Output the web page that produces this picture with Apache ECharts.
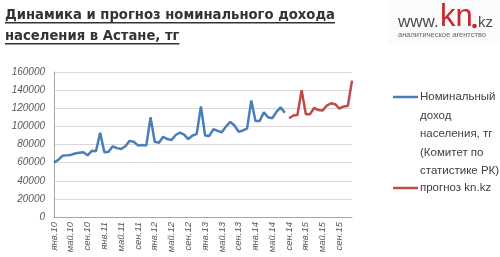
<!DOCTYPE html>
<html>
<head>
<meta charset="utf-8">
<script src="https://cdn.jsdelivr.net/npm/echarts@6/dist/echarts.min.js"></script>
<style>html,body{margin:0;padding:0;background:#fff;}#c{width:500px;height:257px;}</style>
</head>
<body>
<div id="c"></div>
<script>
const months = ['янв','фев','мар','апр','май','июн','июл','авг','сен','окт','ноя','дек'];
const years = ['10','11','12','13','14','15'];
const categories = years.flatMap(y => months.map(m => m + '.' + y));

const titleLines = ['Динамика и прогноз номинального дохода', 'населения в Астане, тг'];
const seriesNames = ['Номинальный доход населения, тг (Комитет по статистике РК)', 'прогноз kn.kz'];
const legendLines = [['Номинальный','доход','населения, тг','(Комитет по','статистике РК)'], ['прогноз kn.kz']];
const yTicks = {min: 0, max: 160000, interval: 20000};

// Jan 2010 – Aug 2014
const actual = [
  60000, 63000, 67500, 68000, 68500, 70000, 71000, 71500, 68000, 73000, 72500, 93000,
  71500, 72000, 78000, 76000, 75000, 78000, 84000, 83000, 79000, 79500, 79000, 110000,
  83000, 82000, 88500, 86000, 85000, 90500, 93000, 91000, 86000, 90000, 91500, 122000,
  90000, 89500, 97000, 95000, 93500, 100000, 105000, 101000, 94000, 95500, 97500, 128500,
  106000, 106000, 115500, 110000, 109000, 116000, 121000, 115000
];
// Sep 2014 – Dec 2015
const forecast = [
  109000, 112000, 112500, 140000, 113500, 113500, 120500, 118000, 117500, 123000, 125500, 124500,
  119500, 122000, 122500, 150500
];

const blueColor = '#4a7ebb';
const redColor = '#be4b48';

const actualData = actual.concat(new Array(categories.length - actual.length).fill(null));
const forecastData = new Array(categories.length - forecast.length).fill(null).concat(forecast);

const titleFont = 'bold 13.2px "DejaVu Sans"';
const cv = document.createElement('canvas').getContext('2d');
cv.font = titleFont;
const titleColor = '#333333';
const titleY = [15.5, 36.5];
const graphics = [];
titleLines.forEach((t, i) => {
  const w = cv.measureText(t).width;
  graphics.push({type:'text', x: 5, y: titleY[i], style:{text: t, font: titleFont, fill: titleColor, verticalAlign:'middle', align:'left'}});
  graphics.push({type:'rect', x: 5, y: titleY[i] + 6.5, shape:{width: w, height: 1.5}, style:{fill: titleColor}});
});
// logo
graphics.push({type:'rect', x: 388, y: 0, shape:{width: 112, height: 44}, style:{fill:'#fbfbfb'}});
graphics.push({type:'text', x: 398, y: 22, style:{text:'www.', font:'17px "Liberation Sans"', fill:'#4d4d4d', verticalAlign:'middle'}});
graphics.push({type:'text', x: 440, y: 17.5, style:{text:'kn', font:'31px "Liberation Sans"', fill:'#c8262c', verticalAlign:'middle'}});
graphics.push({type:'circle', shape:{cx: 474.5, cy: 26, r: 2.3}, style:{fill:'#c8262c'}});
graphics.push({type:'text', x: 478, y: 23, style:{text:'kz', font:'15px "Liberation Sans"', fill:'#4d4d4d', verticalAlign:'middle'}});
graphics.push({type:'text', x: 398, y: 35, style:{text:'аналитическое агентство', font:'7.5px "Liberation Sans"', fill:'#666', verticalAlign:'middle'}});
// legend
const legendColors = [blueColor, redColor];
const legendTop = [97, 188];
const lh = 18.5;
legendLines.forEach((lines, k) => {
  graphics.push({type:'line', shape:{x1: 393, y1: legendTop[k], x2: 418, y2: legendTop[k]}, style:{stroke: legendColors[k], lineWidth: 2.5}});
  lines.forEach((t, j) => {
    graphics.push({type:'text', x: 420, y: legendTop[k] + j * lh, style:{text: t, font:'11.5px "Liberation Sans"', fill:'#404040', verticalAlign:'middle'}});
  });
});

const chart = echarts.init(document.getElementById('c'), null, {renderer:'canvas'});
chart.setOption({
  animation: false,
  backgroundColor: '#ffffff',
  grid: {left: 54, right: 148, top: 72, bottom: 40, containLabel: false},
  xAxis: {
    type: 'category', data: categories, boundaryGap: false,
    axisLine: {lineStyle: {color: '#a6a6a6', width: 1}},
    axisTick: {show: false},
    axisLabel: {interval: 3, rotate: 90, margin: 5, fontStyle: 'italic', fontSize: 9.5, fontFamily: 'Liberation Sans', color: '#595959'},
    splitLine: {show: false}
  },
  yAxis: {
    type: 'value', min: yTicks.min, max: yTicks.max, interval: yTicks.interval,
    axisLine: {show: true, lineStyle: {color: '#a6a6a6', width: 1}},
    axisTick: {show: false},
    axisLabel: {margin: 9, fontStyle: 'italic', fontSize: 10, fontFamily: 'Liberation Sans', color: '#595959', formatter: v => String(v)},
    splitLine: {lineStyle: {color: '#d9d9d9', width: 1}}
  },
  series: [
    {name: seriesNames[0], type: 'line', data: actualData, symbol: 'none', lineStyle: {color: blueColor, width: 2.5}, itemStyle: {color: blueColor}, connectNulls: false},
    {name: seriesNames[1], type: 'line', data: forecastData, symbol: 'none', lineStyle: {color: redColor, width: 2.5}, itemStyle: {color: redColor}, connectNulls: false}
  ],
  graphic: graphics
});
</script>
</body>
</html>
